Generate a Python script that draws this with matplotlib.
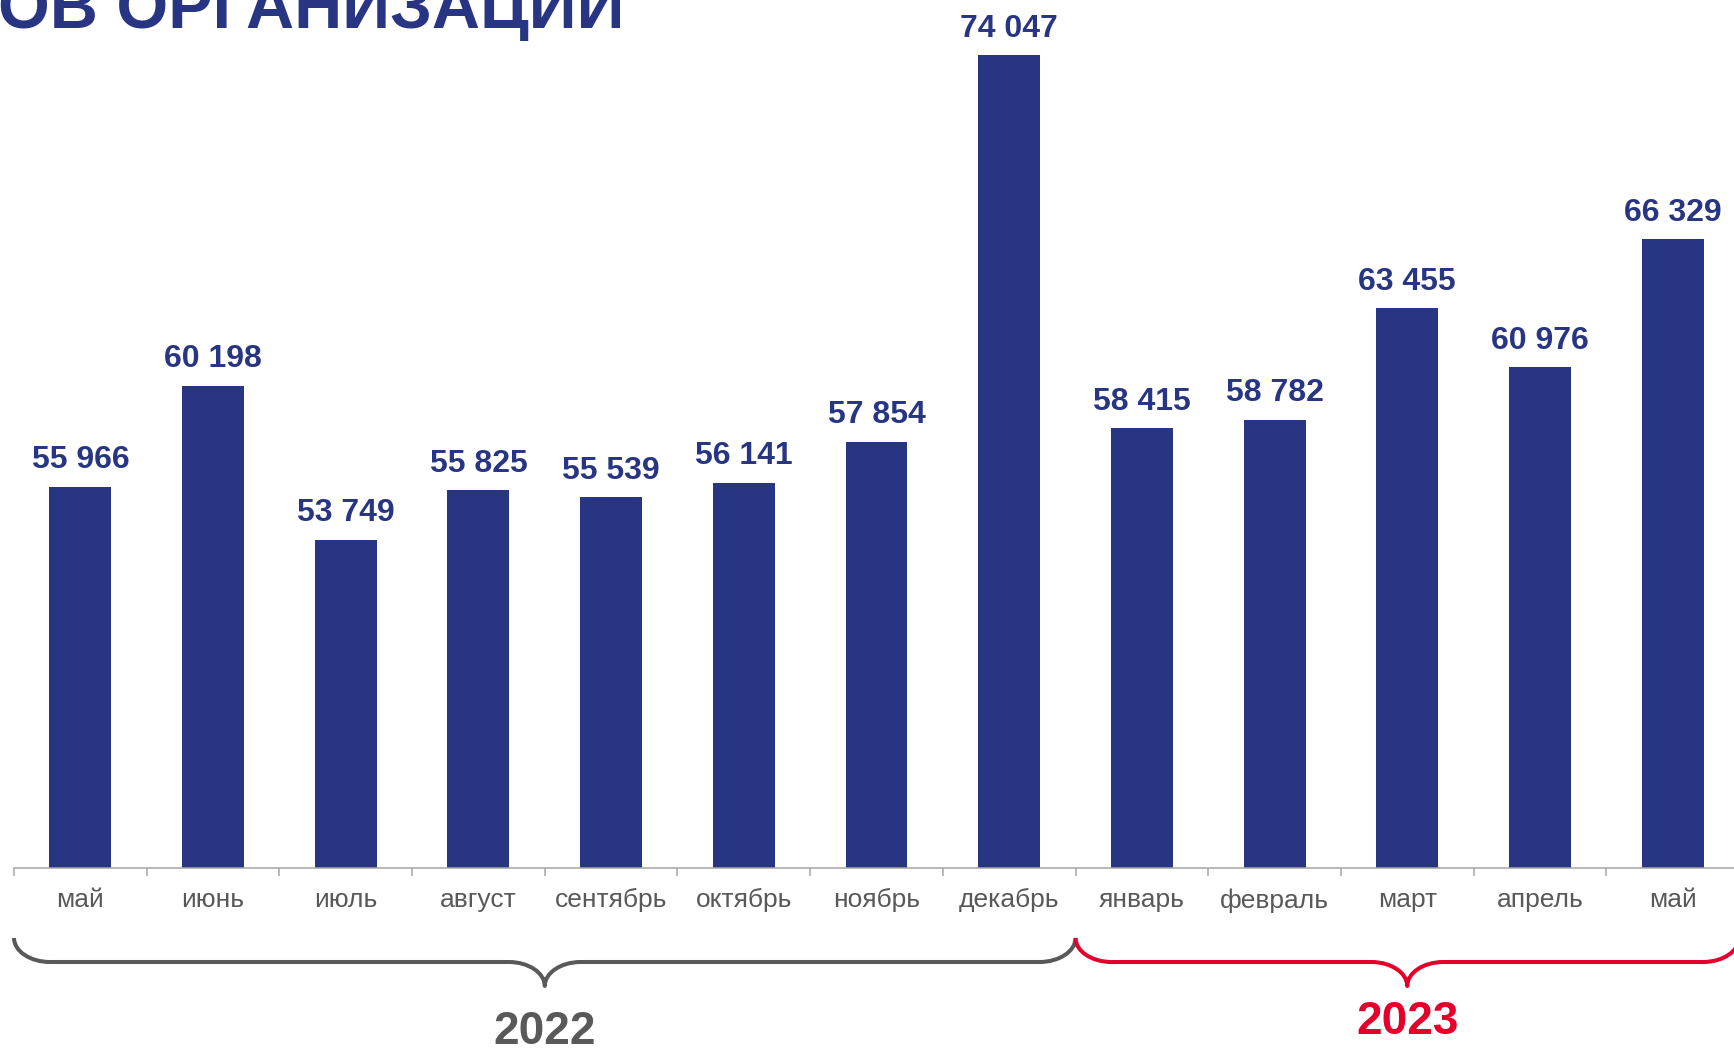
import numpy as np
import matplotlib
matplotlib.use("Agg")
import matplotlib.pyplot as plt
from matplotlib.path import Path
from matplotlib.patches import PathPatch
from matplotlib.transforms import blended_transform_factory

months = ["май", "июнь", "июль", "август", "сентябрь", "октябрь", "ноябрь",
          "декабрь", "январь", "февраль", "март", "апрель", "май"]
values = [55966, 60198, 53749, 55825, 55539, 56141, 57854,
          74047, 58415, 58782, 63455, 60976, 66329]
years = ["2022", "2023"]
year_spans = [(0, 7), (8, 12)]   # first and last month index of each year
title = "ОВ ОРГАНИЗАЦИЙ"

navy = "#283583"
grey = "#595959"
red = "#E4002B"
axis_grey = "#A6A6A6"

plt.rcParams['font.family'] = ['Liberation Sans', 'DejaVu Sans']

W, H = 1734, 1051
fig = plt.figure(figsize=(W / 100, H / 100), dpi=100)
ax_left, ax_w = 14, 1725
base_y = 868
ax = fig.add_axes([ax_left / W, (H - base_y) / H, ax_w / W, base_y / H])

x = np.arange(len(values))
ax.bar(x, values, width=0.467, color=navy)
ax.set_xlim(-0.5, len(values) - 0.5)
ax.set_ylim(40000, 76350)

for i, v in zip(x, values):
    ax.annotate(f"{v:,}".replace(",", " "), (i, v), xytext=(0, 13.2),
                textcoords="offset points", ha="center", va="baseline",
                fontsize=23, fontweight="bold", color=navy)

for s in ["top", "left", "right"]:
    ax.spines[s].set_visible(False)
ax.spines["bottom"].set_color(axis_grey)
ax.spines["bottom"].set_linewidth(1.1)
ax.set_yticks([])
ax.set_xticks(x)
ax.set_xticklabels(months, fontsize=19, color=grey)
ax.tick_params(axis="x", which="major", length=0, pad=14.5)
ax.set_xticks(np.arange(-0.5, len(values), 1), minor=True)
ax.tick_params(axis="x", which="minor", length=5.8, width=1.1, color=axis_grey)

# title fragment clipped at the top of the slide
fig.text(625 / W, 1 - 28 / H, title, ha="right", va="baseline",
         fontsize=48, fontweight="bold", color=navy)

# curly braces under the month labels
trans = blended_transform_factory(ax.transData, fig.transFigure)
cat_px = ax_w / len(values)


def fy(py):
    return 1 - py / H


def brace(x0, x1, color):
    top, line, tip = 938, 962, 986
    w = 36 / cat_px
    w2 = 36 / cat_px
    xm = (x0 + x1) / 2
    k = 0.55
    verts = [(x0, fy(top)),
             (x0, fy(top + k * (line - top))), (x0 + (1 - k) * w, fy(line)), (x0 + w, fy(line)),
             (xm - w2, fy(line)),
             (xm - (1 - k) * w2, fy(line)), (xm, fy(tip - k * (tip - line))), (xm, fy(tip)),
             (xm, fy(tip - k * (tip - line))), (xm + (1 - k) * w2, fy(line)), (xm + w2, fy(line)),
             (x1 - w, fy(line)),
             (x1 - (1 - k) * w, fy(line)), (x1, fy(top + k * (line - top))), (x1, fy(top))]
    codes = [Path.MOVETO] + [Path.CURVE4] * 3 + [Path.LINETO] + [Path.CURVE4] * 6 \
        + [Path.LINETO] + [Path.CURVE4] * 3
    patch = PathPatch(Path(verts, codes), facecolor="none", edgecolor=color,
                      lw=2.9, transform=trans, clip_on=False, joinstyle="round")
    ax.add_patch(patch)
    return xm


year_colors = [grey, red]
year_base = [1044, 1034]
for yr, (a, b), c, yb in zip(years, year_spans, year_colors, year_base):
    xm = brace(a - 0.5, b + 0.5, c)
    ax.text(xm, fy(yb), yr, transform=trans, ha="center", va="baseline",
            fontsize=33, fontweight="bold", color=c, clip_on=False)

fig.savefig("out.png", dpi=100)
